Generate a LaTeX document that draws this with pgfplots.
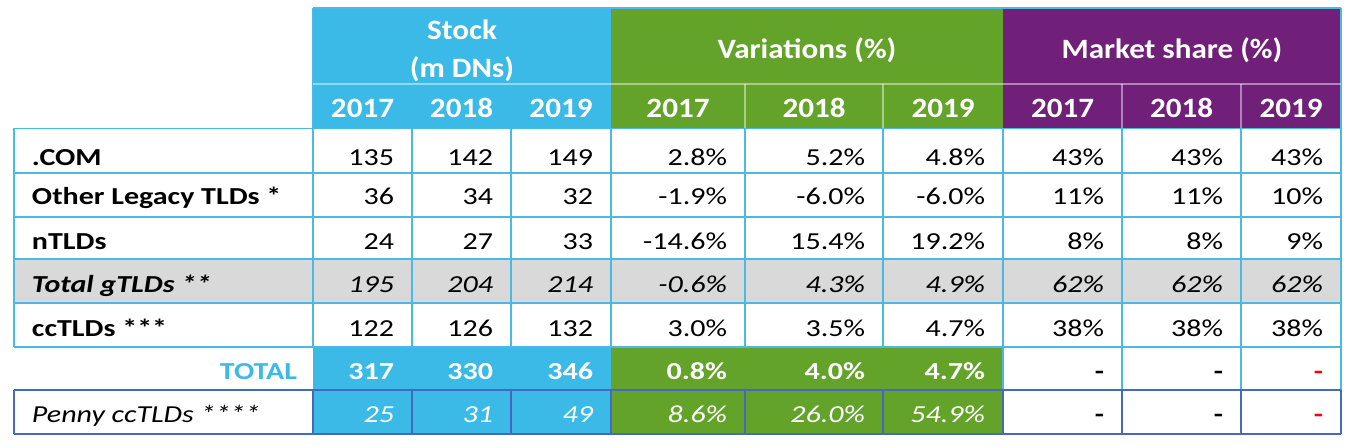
\documentclass[border=0pt]{standalone}
\usepackage{fontspec}
\setmainfont{Carlito}[FakeStretch=1.23]
\newfontfamily\hfont{Carlito}[FakeStretch=1.11]
\usepackage{pgfplots}
\pgfplotsset{compat=1.18}
\usepackage{pgfplotstable}

\definecolor{cblue}{RGB}{60,186,231}
\definecolor{cgreen}{RGB}{99,163,41}
\definecolor{cpurple}{RGB}{112,32,120}
\definecolor{cgrey}{RGB}{217,217,217}
\definecolor{cline}{RGB}{75,185,225}
\definecolor{cdark}{RGB}{70,105,190}
\definecolor{cred}{RGB}{255,0,0}

\newcommand\fs{\fontsize{12.2}{14}\selectfont}
\newcommand\hs{\hfont\fontsize{14}{16}\selectfont}
\newcommand\HL[4][cline]{\addplot[#1, line width=0.6pt] coordinates {(#2,#4) (#3,#4)};}
\newcommand\VL[4][cline]{\addplot[#1, line width=0.6pt] coordinates {(#2,#3) (#2,#4)};}
\newcommand\BOX[5]{\addplot[fill=#1, draw=none] coordinates {(#2,#4) (#3,#4) (#3,#5) (#2,#5)} -- cycle;}

\pgfplotsset{
  txt/.style={draw=none, mark=none, nodes near coords, point meta=explicit symbolic,
    every node near coord/.append style={inner sep=0pt, outer sep=0pt}},
  R/.style={txt, every node near coord/.append style={anchor=base east}},
  L/.style={txt, every node near coord/.append style={anchor=base west}},
  C/.style={txt, every node near coord/.append style={anchor=base}},
  pct/.style={nodes near coords={\pgfplotspointmeta\%}},
  F/.style={every node near coord/.append style={font=#1}},
  T/.style={every node near coord/.append style={text=#1}},
}

\begin{document}
\begin{tikzpicture}
\begin{axis}[width=675.5pt, height=224pt, scale only axis,
  xmin=0, xmax=1351, ymin=0, ymax=448, y dir=reverse,
  hide axis, clip=false]

% invisible frame
\addplot[draw=none] coordinates {(0,0) (1351,448)};

% fills
\BOX{cblue}{313}{611}{8}{128}
\BOX{cgreen}{611}{1003}{8}{128}
\BOX{cpurple}{1003}{1341}{8}{128}
\BOX{cgrey}{14}{1341}{259}{303}
\BOX{cblue}{313}{611}{347}{434}
\BOX{cgreen}{611}{1003}{347}{434}

% header lines
\HL{313}{1341}{8}
\VL{313}{8}{128}
\VL{1341}{8}{128}
\HL[white, opacity=0.45]{313}{1341}{84}
\pgfplotsinvokeforeach{745,883,1122,1241}{\VL[white, opacity=0.45]{#1}{84}{128}}

% body grid
\pgfplotsinvokeforeach{128.5,173,217,259,303,347}{\HL{14}{1341}{#1}}
\pgfplotsinvokeforeach{14,313,412,511,611,745,883,1003,1122,1241,1341}{\VL{#1}{128}{347}}
\pgfplotsinvokeforeach{1003,1122,1241,1341}{\VL{#1}{347}{390}}
% penny row
\HL[cdark]{14}{1341}{390}
\HL[cdark]{14}{1341}{434}
\pgfplotsinvokeforeach{14,313,412,511,611,745,883,1003,1122,1241,1341}{\VL[cdark]{#1}{390}{434}}

% header text
\addplot[C, F=\hs\bfseries, T=white] table[meta=v] {
x y v
462 40 Stock
462 78 {(m DNs)}
807 59 {Variations (\%)}
1172 59 {Market share (\%)}
362.5 118 2017
461.5 118 2018
561 118 2019
678 118 2017
814 118 2018
943 118 2019
1062.5 118 2017
1181.5 118 2018
1291 118 2019
};

% row labels
\addplot[L, F=\fs\bfseries, T=black] table[meta=v] {
x y v
32 166 .COM
32 205 {Other Legacy TLDs *}
32 250 nTLDs
32 337 {ccTLDs ***}
};
\addplot[L, F=\fs\bfseries\itshape, T=black] table[meta=v] {
x y v
32 293 {Total gTLDs **}
};
\addplot[L, F=\fs\itshape, T=black] table[meta=v] {
x y v
32 423 {Penny ccTLDs ****}
};
\addplot[R, F=\fs\bfseries, T=cblue] table[meta=v] {
x y v
297 380 TOTAL
};

% stock values, plain rows
\addplot[R, F=\fs, T=black] table[meta=v] {
x y v
394 166 135
493 166 142
593 166 149
394 205 36
493 205 34
593 205 32
394 250 24
493 250 27
593 250 33
394 337 122
493 337 126
593 337 132
};
% percentages, plain rows
\addplot[R, pct, F=\fs, T=black] table[meta=v] {
x y v
727 166 2.8
865 166 5.2
985 166 4.8
1104 166 43
1223 166 43
1323 166 43
727 205 -1.9
865 205 -6.0
985 205 -6.0
1104 205 11
1223 205 11
1323 205 10
727 250 -14.6
865 250 15.4
985 250 19.2
1104 250 8
1223 250 8
1323 250 9
727 337 3.0
865 337 3.5
985 337 4.7
1104 337 38
1223 337 38
1323 337 38
};
% Total gTLDs (italic)
\addplot[R, F=\fs\itshape, T=black] table[meta=v] {
x y v
394 293 195
493 293 204
593 293 214
};
\addplot[R, pct, F=\fs\itshape, T=black] table[meta=v] {
x y v
727 293 -0.6
865 293 4.3
985 293 4.9
1104 293 62
1223 293 62
1323 293 62
};
% TOTAL row
\addplot[R, F=\fs\bfseries, T=white] table[meta=v] {
x y v
394 380 317
493 380 330
593 380 346
};
\addplot[R, pct, F=\fs\bfseries, T=white] table[meta=v] {
x y v
727 380 0.8
865 380 4.0
985 380 4.7
};
% Penny row
\addplot[R, F=\fs\itshape, T=white] table[meta=v] {
x y v
394 423 25
493 423 31
593 423 49
};
\addplot[R, pct, F=\fs\itshape, T=white] table[meta=v] {
x y v
727 423 8.6
865 423 26.0
985 423 54.9
};
% dashes
\addplot[R, F=\fs\bfseries, T=black] table[meta=v] {
x y v
1104 380 -
1223 380 -
1104 423 -
1223 423 -
};
\addplot[R, F=\fs\bfseries, T=cred] table[meta=v] {
x y v
1323 380 -
1323 423 -
};
\end{axis}
\end{tikzpicture}
\end{document}
